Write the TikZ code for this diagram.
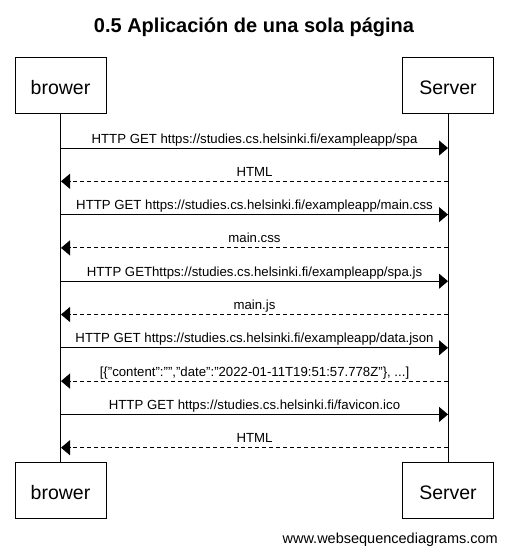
\documentclass[tikz,border=0pt]{standalone}
\usepackage{fontspec}
\setmainfont{Liberation Sans}
\usetikzlibrary{arrows.meta}
\begin{document}
\begin{tikzpicture}[x=1pt,y=-1pt,
  actor/.style={draw,line width=1pt,minimum width=91pt,minimum height=56pt,inner sep=0pt,
    text height=18.6pt,text depth=0pt,font=\fontsize{19.5}{20}\selectfont},
  life/.style={line width=1pt},
  req/.style={line width=1pt,-{Triangle[length=9pt,width=15pt]}},
  resp/.style={req,dash pattern=on 4pt off 3pt},
  lbl/.style={anchor=base,font=\fontsize{13.2}{14}\selectfont,inner sep=0pt},
  ttl/.style={anchor=base,font=\bfseries\fontsize{20}{22}\selectfont,inner sep=0pt},
  foot/.style={anchor=base east,font=\fontsize{14.5}{16}\selectfont,inner sep=0pt}]
\useasboundingbox (0,0) rectangle (507,552);
\fill[white] (0,0) rectangle (507,552);
\node[ttl] (title) at (254,32) {0.5 Aplicación de una sola página};
% participants
\node[actor] (bt) at (60.5,85) {brower};
\node[actor] (st) at (448,85) {Server};
\node[actor] (bb) at (60.5,490) {brower};
\node[actor] (sb) at (448,490) {Server};
\draw[life] (bt.south) -- (bb.north);
\draw[life] (st.south) -- (sb.north);
% message end points
\foreach \i/\y in {1/148,2/181.3,3/214.6,4/247.9,5/281.2,6/314.5,7/347.8,8/381.1,9/414.4,10/447.7}{
  \coordinate (b\i) at (61,\y);
  \coordinate (s\i) at (448,\y);
}
\draw[req]  (b1) -- (s1);
\draw[resp] (s2) -- (b2);
\draw[req]  (b3) -- (s3);
\draw[resp] (s4) -- (b4);
\draw[req]  (b5) -- (s5);
\draw[resp] (s6) -- (b6);
\draw[req]  (b7) -- (s7);
\draw[resp] (s8) -- (b8);
\draw[req]  (b9) -- (s9);
\draw[resp] (s10) -- (b10);
\node[lbl] (l1) at (254.5,143) {HTTP GET https://studies.cs.helsinki.fi/exampleapp/spa};
\node[lbl] (l2) at (254.5,176.3) {HTML};
\node[lbl] (l3) at (254.5,209.6) {HTTP GET https://studies.cs.helsinki.fi/exampleapp/main.css};
\node[lbl] (l4) at (254.5,242.9) {main.css};
\node[lbl] (l5) at (254.5,276.2) {HTTP GEThttps://studies.cs.helsinki.fi/exampleapp/spa.js};
\node[lbl] (l6) at (254.5,309.5) {main.js};
\node[lbl] (l7) at (254.5,342.8) {HTTP GET https://studies.cs.helsinki.fi/exampleapp/data.json};
\node[lbl] (l8) at (254.5,376.1) {[\{"content":"","date":"2022-01-11T19:51:57.778Z"\}, ...]};
\node[lbl] (l9) at (254.5,409.4) {HTTP GET https://studies.cs.helsinki.fi/favicon.ico};
\node[lbl] (l10) at (254.5,442.7) {HTML};
\node[foot] (footer) at (498,543) {www.websequencediagrams.com};
\end{tikzpicture}
\end{document}
